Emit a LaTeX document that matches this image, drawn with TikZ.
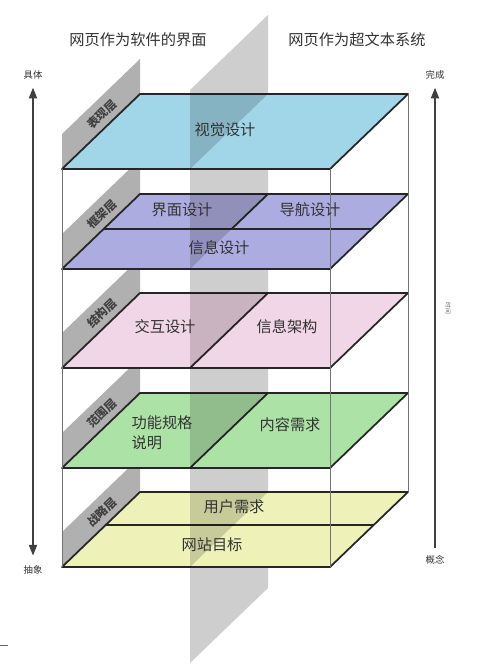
\documentclass[tikz,border=0pt]{standalone}
\usepackage{fontspec}
\newfontfamily\cjkfont{Noto Sans CJK SC}
\usetikzlibrary{
    arrows.meta,
    calc,
    positioning
}
\definecolor{layerblue}{RGB}{160,214,232}
\definecolor{layerpurple}{RGB}{172,172,224}
\definecolor{layerpink}{RGB}{240,214,230}
\definecolor{layergreen}{RGB}{172,226,166}
\definecolor{layeryellow}{RGB}{238,242,184}
\definecolor{stripgray}{RGB}{176,176,176}
\definecolor{planegray}{RGB}{206,206,206}
\definecolor{textgray}{RGB}{51,51,51}
\tikzset{
    % Plane styles
    layer plane/.style={
        draw=black!85,
        line width=1.5pt,
        line join=round
    },
    side strip/.style={
        fill=stripgray
    },
    middle plane/.style={
        fill=planegray
    },
    shade wedge/.style={
        fill=black,
        fill opacity=0.16
    },
    box line/.style={
        draw=black!55,
        line width=0.6pt
    },
    % Text styles
    title text/.style={
        font=\cjkfont\fontsize{13}{15}\selectfont,
        text=textgray
    },
    item text/.style={
        font=\cjkfont\fontsize{13}{17}\selectfont,
        text=textgray,
        align=left,
        inner sep=1pt
    },
    layer label/.style={
        font=\cjkfont\bfseries\fontsize{10}{12}\selectfont,
        text=black!75,
        inner sep=0pt,
        rotate=44
    },
    axis label/.style={
        font=\cjkfont\fontsize{8}{10}\selectfont,
        text=textgray,
        inner sep=1pt
    },
    time label/.style={
        font=\cjkfont\fontsize{5}{6}\selectfont,
        text=black!60,
        rotate=-90
    },
    % Arrow styles
    axis arrow/.style={
        draw=black!75,
        line width=1pt,
        >={Triangle[length=9pt,width=7pt]}
    }
}

\begin{document}
\begin{tikzpicture}[x=0.03cm, y=-0.03cm]
    \useasboundingbox (0,0) rectangle (500,668);

    % Corners of the five layers
    \foreach \i/\yf in {1/169,2/269,3/368,4/468,5/567} {
        \coordinate (fl\i) at (62,\yf);
        \coordinate (fr\i) at (330,\yf);
        \coordinate (br\i) at (408,\yf-75);
        \coordinate (bl\i) at (140,\yf-75);
        \coordinate (fm\i) at (190,\yf);
        \coordinate (bm\i) at (268,\yf-75);
        \coordinate (bw\i) at (190,\yf-75);
    }

    % Middle plane
    \fill[middle plane] (190,90) -- (268,15) -- (268,588) -- (190,663) -- cycle;

    % Side strips
    \foreach \i/\name in {1/表现层,2/框架层,3/结构层,4/范围层,5/战略层} {
        \fill[side strip] (fl\i) -- (bl\i) -- ++(0,-35) -- ++(-78,75) -- cycle;
        \node[layer label] (strip\i) at ($(fl\i)!0.5!(bl\i) + (1,-17)$) {\name};
    }

    % Layer planes
    \filldraw[layer plane, fill=layerblue] (fl1) -- (fr1) -- (br1) -- (bl1) -- cycle;

    \filldraw[layer plane, fill=layerpurple] (fl2) -- (fr2) -- (br2) -- (bl2) -- cycle;
    \draw[layer plane] ($(bl2)!0.47!(fl2)$) -- ($(br2)!0.47!(fr2)$);
    \draw[layer plane] (bm2) -- ($(bm2)!0.47!(fm2)$);

    \filldraw[layer plane, fill=layerpink] (fl3) -- (fr3) -- (br3) -- (bl3) -- cycle;
    \draw[layer plane] (bm3) -- (fm3);

    \filldraw[layer plane, fill=layergreen] (fl4) -- (fr4) -- (br4) -- (bl4) -- cycle;
    \draw[layer plane] (bm4) -- (fm4);

    \filldraw[layer plane, fill=layeryellow] (fl5) -- (fr5) -- (br5) -- (bl5) -- cycle;
    \draw[layer plane] ($(bl5)!0.44!(fl5)$) -- ($(br5)!0.44!(fr5)$);

    % Middle plane seen above each layer
    \foreach \i in {1,...,5} {
        \fill[shade wedge] (bw\i) -- (bm\i) -- (fm\i) -- cycle;
    }

    % Box edges
    \draw[box line] (fl1) -- (fl5);
    \draw[box line] (fr1) -- (fr5);
    \draw[box line] (br1) -- (br5);

    % Titles
    \node[title text] (title left) at (138,40) {网页作为软件的界面};
    \node[title text] (title right) at (357,40) {网页作为超文本系统};

    % Layer contents
    \node[item text] (visual) at (225,130) {视觉设计};
    \node[item text] (interface) at (182,210) {界面设计};
    \node[item text] (navigation) at (310,210) {导航设计};
    \node[item text] (information) at (219,248) {信息设计};
    \node[item text] (interaction) at (165,327) {交互设计};
    \node[item text] (architecture) at (287,327) {信息架构};
    \node[item text] (function) at (162,433) {功能规格\\说明};
    \node[item text] (content) at (290,425) {内容需求};
    \node[item text] (user) at (234,507) {用户需求};
    \node[item text] (goal) at (212,545) {网站目标};

    % Axes
    \node[axis label] (concrete) at (33,75) {具体};
    \node[axis label] (abstract) at (33,570) {抽象};
    \node[axis label] (complete) at (435,75) {完成};
    \node[axis label] (concept) at (435,560) {概念};
    \node[time label] (time) at (448,308) {时间};
    \draw[axis arrow, <->, shorten <=6pt, shorten >=7.5pt] (concrete) -- (abstract);
    \draw[axis arrow, ->, shorten <=5pt, shorten >=6pt] (concept) -- (complete);

    \draw[black!60, line width=0.6pt] (0,645) -- (8,645);
\end{tikzpicture}
\end{document}
